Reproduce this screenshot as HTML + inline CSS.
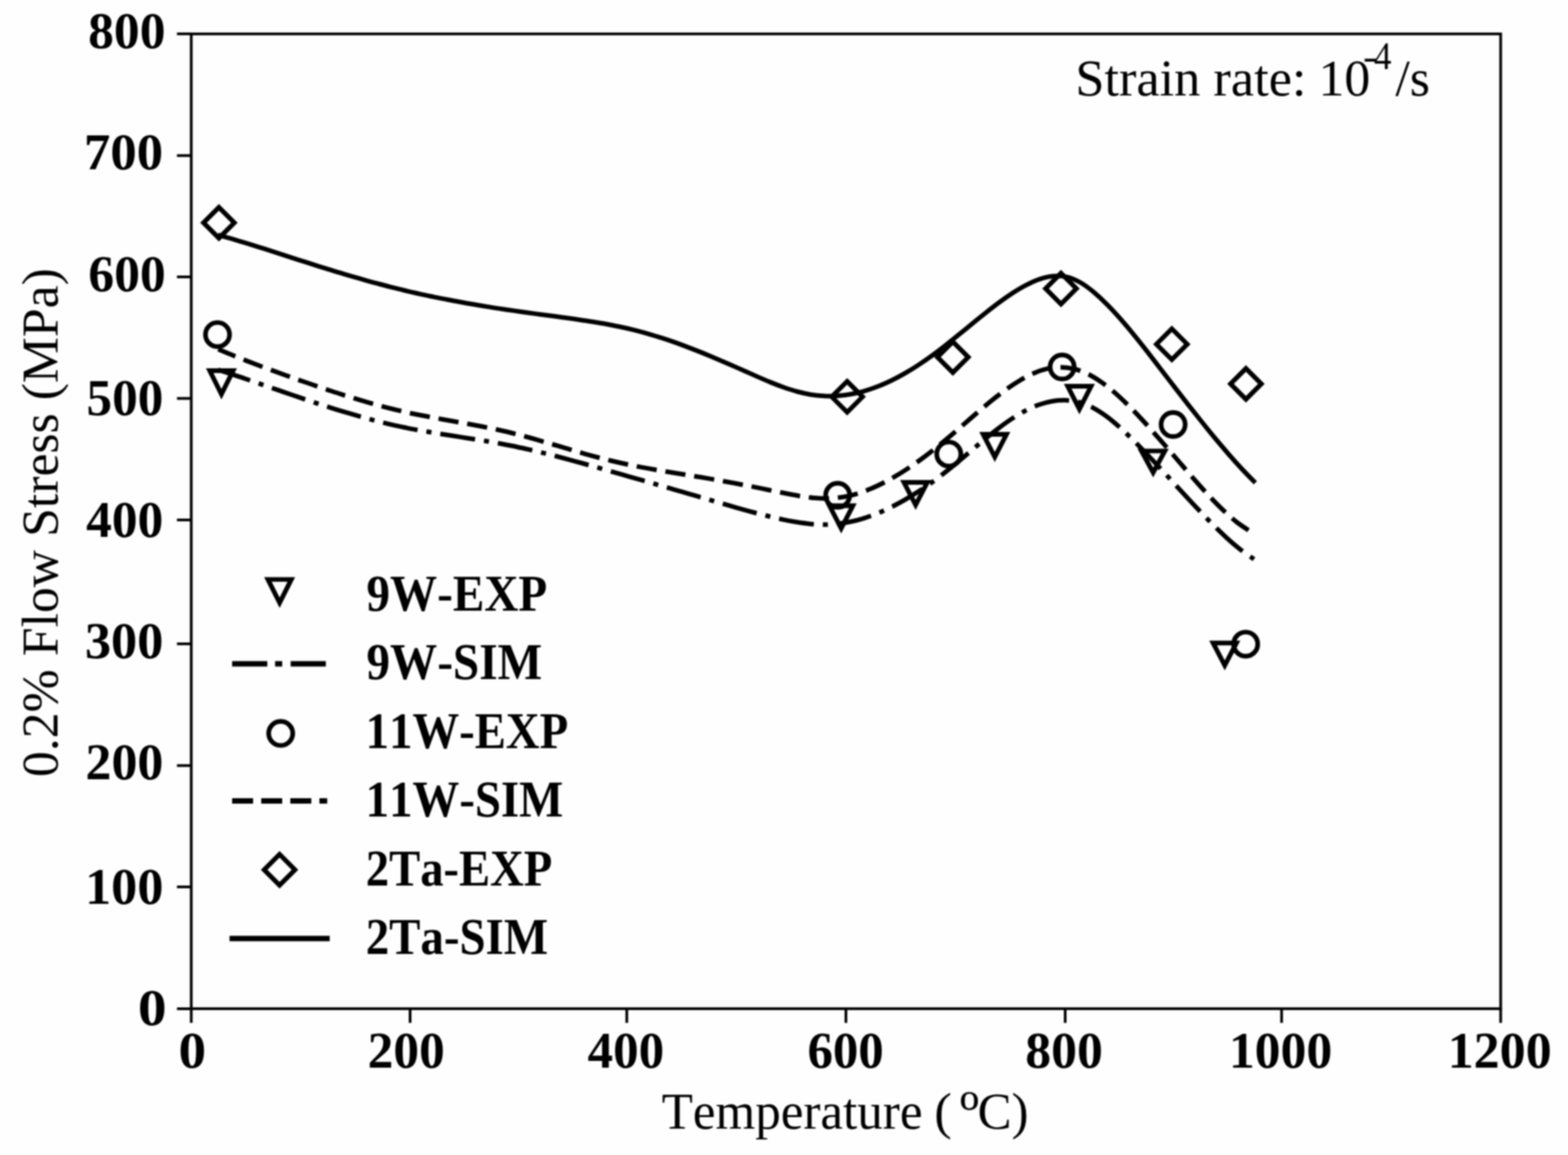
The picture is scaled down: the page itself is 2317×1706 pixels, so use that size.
<!DOCTYPE html>
<html lang="en">
<head>
<meta charset="utf-8">
<title>0.2% Flow Stress vs Temperature</title>
<style>
html,body{margin:0;padding:0;background:#fefefe;}
body{width:2317px;height:1706px;overflow:hidden;}
svg{display:block;filter:blur(1.3px);}
text{font-family:"Liberation Serif","DejaVu Serif",serif;fill:#000;font-kerning:none;font-variant-ligatures:none;white-space:pre;}
text.b{font-weight:bold;}
</style>
</head>
<body>
<svg width="2317" height="1706" viewBox="0 0 2317 1706">
<rect x="0" y="0" width="2317" height="1706" fill="#fefefe"/>
<g stroke="#000" stroke-width="4" fill="none">
<rect x="282.6" y="50.1" width="1934.9" height="1439.8"/>
<path d="M261.5 50.0 H282.6"/>
<path d="M261.5 229.8 H282.6"/>
<path d="M261.5 409.0 H282.6"/>
<path d="M261.5 588.5 H282.6"/>
<path d="M261.5 768.0 H282.6"/>
<path d="M261.5 951.0 H282.6"/>
<path d="M261.5 1130.8 H282.6"/>
<path d="M261.5 1310.0 H282.6"/>
<path d="M261.5 1490.0 H282.6"/>
<path d="M282.6 1489.9 V1510.8"/>
<path d="M606.0 1489.9 V1510.8"/>
<path d="M926.2 1489.9 V1510.8"/>
<path d="M1250.0 1489.9 V1510.8"/>
<path d="M1574.0 1489.9 V1510.8"/>
<path d="M1893.8 1489.9 V1510.8"/>
<path d="M2217.5 1489.9 V1510.8"/>
</g>
<text class="b" font-size="76" transform="translate(130.17 71.00) scale(1.0029 1)">800</text>
<text class="b" font-size="76" transform="translate(124.04 250.00) scale(1.0275 1)">700</text>
<text class="b" font-size="76" transform="translate(130.59 430.00) scale(1.0036 1)">600</text>
<text class="b" font-size="76" transform="translate(127.77 613.20) scale(0.9966 1)">500</text>
<text class="b" font-size="76" transform="translate(127.26 792.60) scale(1.0012 1)">400</text>
<text class="b" font-size="76" transform="translate(125.39 972.20) scale(1.0180 1)">300</text>
<text class="b" font-size="76" transform="translate(126.28 1151.40) scale(1.0101 1)">200</text>
<text class="b" font-size="76" transform="translate(125.83 1335.00) scale(1.0141 1)">100</text>
<text class="b" font-size="76" transform="translate(203.76 1514.00) scale(1.1176 1)">0</text>
<text class="b" font-size="76" transform="translate(263.69 1576.80) scale(1.0742 1)">0</text>
<text class="b" font-size="76" transform="translate(543.31 1576.80) scale(1.0008 1)">200</text>
<text class="b" font-size="76" transform="translate(868.27 1576.80) scale(0.9921 1)">400</text>
<text class="b" font-size="76" transform="translate(1193.13 1576.80) scale(0.9898 1)">600</text>
<text class="b" font-size="76" transform="translate(1515.06 1576.80) scale(1.0057 1)">800</text>
<text class="b" font-size="76" transform="translate(1815.89 1576.80) scale(1.0048 1)">1000</text>
<text class="b" font-size="76" transform="translate(2139.15 1576.80) scale(1.0111 1)">1200</text>
<text font-size="76"><tspan x="977.64" y="1666.60" font-size="76" textLength="404.45" lengthAdjust="spacingAndGlyphs">Temperature </tspan><tspan x="1380.58" y="1666.60" font-size="76" textLength="45.40" lengthAdjust="spacingAndGlyphs">( </tspan><tspan x="1418.34" y="1673.60" font-size="91" textLength="28.52" lengthAdjust="spacingAndGlyphs">º</tspan><tspan x="1444.41" y="1666.60" font-size="76" textLength="75.41" lengthAdjust="spacingAndGlyphs">C)</tspan></text>
<text font-size="76" transform="translate(85.20 1147.71) rotate(-90) scale(1.0059 1)">0.2% Flow Stress (MPa)</text>
<text font-size="76"><tspan x="1588.92" y="141.40" font-size="76" textLength="360.99" lengthAdjust="spacingAndGlyphs">Strain rate: </tspan><tspan x="1948.26" y="141.40" font-size="76" textLength="76.66" lengthAdjust="spacingAndGlyphs">10</tspan><tspan x="2014.11" y="102.20" font-size="58" textLength="22.31" lengthAdjust="spacingAndGlyphs">-</tspan><tspan x="2030.29" y="102.20" font-size="58" textLength="25.82" lengthAdjust="spacingAndGlyphs">4</tspan><tspan x="2062.00" y="141.40" font-size="76" textLength="50.96" lengthAdjust="spacingAndGlyphs">/s</tspan></text>
<text class="b" font-size="76" transform="translate(541.49 901.90) scale(0.9168 1)">9W-EXP</text>
<text class="b" font-size="76" transform="translate(541.49 1003.40) scale(0.9181 1)">9W-SIM</text>
<text class="b" font-size="76" transform="translate(540.37 1104.50) scale(0.9091 1)">11W-EXP</text>
<text class="b" font-size="76" transform="translate(540.36 1206.10) scale(0.9101 1)">11W-SIM</text>
<text class="b" font-size="76" transform="translate(540.51 1307.70) scale(0.9064 1)">2Ta-EXP</text>
<text class="b" font-size="76" transform="translate(540.49 1409.00) scale(0.9115 1)">2Ta-SIM</text>
<g stroke="#000" fill="none" stroke-width="6.8" stroke-linecap="butt" stroke-linejoin="round">
<path d="M322.0 347.0C325.3 347.9 335.3 350.7 341.9 352.6C348.5 354.5 355.2 356.5 361.8 358.5C368.4 360.5 375.1 362.6 381.7 364.7C388.3 366.8 395.0 368.9 401.6 371.0C408.2 373.1 414.9 375.4 421.5 377.5C428.1 379.6 434.9 381.8 441.5 383.9C448.1 386.0 454.8 388.2 461.4 390.3C468.0 392.4 474.7 394.4 481.3 396.5C487.9 398.6 494.6 400.6 501.2 402.6C507.8 404.6 514.5 406.6 521.1 408.5C527.7 410.4 534.4 412.3 541.0 414.2C547.6 416.1 554.3 417.8 560.9 419.6C567.5 421.4 574.2 423.1 580.8 424.8C587.4 426.5 594.1 428.1 600.7 429.7C607.3 431.3 614.0 432.7 620.6 434.2C627.2 435.7 633.9 437.1 640.5 438.5C647.1 439.9 653.9 441.1 660.5 442.4C667.1 443.7 673.8 445.0 680.4 446.2C687.0 447.4 693.7 448.6 700.3 449.7C706.9 450.8 713.6 451.9 720.2 453.0C726.8 454.1 733.5 455.1 740.1 456.1C746.7 457.1 753.4 458.0 760.0 459.0C766.6 460.0 773.3 461.0 779.9 461.9C786.5 462.8 793.2 463.7 799.8 464.6C806.4 465.5 813.1 466.3 819.7 467.2C826.3 468.1 833.0 469.0 839.6 469.9C846.2 470.8 852.9 471.8 859.5 472.8C866.1 473.8 872.9 474.8 879.5 475.9C886.1 477.0 892.8 478.1 899.4 479.4C906.0 480.6 912.7 482.0 919.3 483.4C925.9 484.8 932.6 486.3 939.2 488.0C945.8 489.7 952.5 491.5 959.1 493.4C965.7 495.3 972.4 497.4 979.0 499.5C985.6 501.6 992.3 503.9 998.9 506.3C1005.5 508.7 1012.2 511.2 1018.8 513.7C1025.4 516.2 1032.1 518.8 1038.7 521.5C1045.3 524.2 1052.0 527.0 1058.6 529.8C1065.2 532.6 1071.8 535.5 1078.5 538.4C1085.2 541.3 1091.8 544.2 1098.5 547.1C1105.2 550.0 1111.8 553.1 1118.4 556.0C1125.0 558.9 1131.7 561.8 1138.3 564.5C1144.9 567.2 1151.6 569.8 1158.2 572.1C1164.8 574.4 1171.5 576.6 1178.1 578.4C1184.7 580.2 1191.4 581.7 1198.0 582.8C1204.6 583.9 1211.3 584.6 1217.9 584.9C1224.5 585.2 1231.2 585.2 1237.8 584.7C1244.4 584.2 1251.1 583.4 1257.7 582.2C1264.3 581.0 1271.0 579.4 1277.6 577.5C1284.2 575.6 1290.8 573.3 1297.5 570.7C1304.2 568.1 1310.8 565.1 1317.5 561.9C1324.2 558.7 1330.8 555.1 1337.4 551.3C1344.0 547.5 1350.7 543.4 1357.3 539.0C1363.9 534.6 1370.6 530.0 1377.2 525.2C1383.8 520.4 1390.5 515.3 1397.1 510.1C1403.7 504.9 1410.4 499.6 1417.0 494.2C1423.6 488.8 1430.3 483.3 1436.9 477.9C1443.5 472.5 1450.2 467.1 1456.8 461.9C1463.4 456.7 1470.1 451.5 1476.7 446.6C1483.3 441.7 1490.0 437.0 1496.6 432.7C1503.2 428.4 1509.8 424.4 1516.5 421.0C1523.2 417.6 1529.8 414.5 1536.5 412.3C1543.2 410.1 1549.8 408.4 1556.4 407.9C1563.0 407.3 1569.7 407.5 1576.3 409.0C1582.9 410.5 1589.6 413.4 1596.2 417.1C1602.8 420.8 1609.5 425.9 1616.1 431.4C1622.7 436.9 1629.4 443.2 1636.0 449.9C1642.6 456.5 1649.3 463.8 1655.9 471.3C1662.5 478.8 1669.2 486.7 1675.8 494.8C1682.4 502.9 1689.1 511.4 1695.7 519.9C1702.3 528.4 1709.0 537.1 1715.6 545.7C1722.2 554.3 1728.8 563.0 1735.5 571.6C1742.2 580.2 1748.8 588.8 1755.5 597.3C1762.2 605.8 1768.8 614.2 1775.4 622.5C1782.0 630.8 1788.7 639.0 1795.3 647.0C1801.9 655.0 1808.6 662.8 1815.2 670.4C1821.8 678.0 1828.5 685.5 1835.1 692.6C1841.7 699.7 1851.7 709.8 1855.0 713.2"/>
<path stroke-dasharray="30 13.07" stroke-dashoffset="2.7" d="M322.5 515.9C325.9 517.3 335.9 521.5 342.6 524.2C349.3 526.9 355.9 529.6 362.6 532.2C369.3 534.8 376.0 537.4 382.7 539.9C389.4 542.4 396.1 544.8 402.8 547.3C409.5 549.8 416.2 552.2 422.9 554.6C429.6 557.0 436.2 559.4 442.9 561.7C449.6 564.0 456.3 566.3 463.0 568.6C469.7 570.9 476.4 573.2 483.1 575.4C489.8 577.6 496.5 579.9 503.2 582.0C509.9 584.1 516.5 586.2 523.2 588.2C529.9 590.2 536.6 592.3 543.3 594.2C550.0 596.1 556.7 598.0 563.4 599.8C570.1 601.6 576.7 603.3 583.4 604.9C590.1 606.5 596.8 608.1 603.5 609.6C610.2 611.1 616.9 612.4 623.6 613.7C630.3 615.0 637.0 616.3 643.7 617.5C650.4 618.7 657.0 619.9 663.7 621.1C670.4 622.3 677.1 623.5 683.8 624.7C690.5 625.9 697.2 627.1 703.9 628.4C710.6 629.7 717.2 630.9 723.9 632.3C730.6 633.7 737.3 635.1 744.0 636.6C750.7 638.1 757.4 639.8 764.1 641.5C770.8 643.2 777.5 645.0 784.2 646.9C790.9 648.8 797.5 650.8 804.2 652.7C810.9 654.7 817.6 656.6 824.3 658.6C831.0 660.6 837.7 662.6 844.4 664.6C851.1 666.6 857.8 668.5 864.5 670.4C871.2 672.3 877.8 674.1 884.5 675.9C891.2 677.6 897.9 679.3 904.6 680.9C911.3 682.5 918.0 684.0 924.7 685.4C931.4 686.8 938.0 688.2 944.7 689.5C951.4 690.8 958.1 692.0 964.8 693.2C971.5 694.4 978.2 695.5 984.9 696.6C991.6 697.7 998.3 698.8 1005.0 699.9C1011.7 701.0 1018.3 702.1 1025.0 703.2C1031.7 704.3 1038.4 705.4 1045.1 706.5C1051.8 707.6 1058.5 708.8 1065.2 710.0C1071.9 711.2 1078.5 712.5 1085.2 713.7C1091.9 715.0 1098.6 716.2 1105.3 717.5C1112.0 718.8 1118.7 720.1 1125.4 721.5C1132.1 722.9 1138.8 724.2 1145.5 725.6C1152.2 727.0 1158.8 728.4 1165.5 729.7C1172.2 731.0 1178.9 732.3 1185.6 733.3C1192.3 734.3 1199.0 735.2 1205.7 735.7C1212.4 736.2 1219.1 736.5 1225.8 736.2C1232.5 735.9 1239.1 735.2 1245.8 734.1C1252.5 733.0 1259.2 731.4 1265.9 729.4C1272.6 727.4 1279.3 725.0 1286.0 722.2C1292.7 719.5 1299.3 716.3 1306.0 712.9C1312.7 709.5 1319.4 705.7 1326.1 701.7C1332.8 697.7 1339.5 693.3 1346.2 688.8C1352.9 684.3 1359.6 679.5 1366.3 674.5C1373.0 669.5 1379.6 664.2 1386.3 658.8C1393.0 653.4 1399.7 647.8 1406.4 642.1C1413.1 636.4 1419.8 630.5 1426.5 624.7C1433.2 618.9 1439.9 613.0 1446.6 607.3C1453.3 601.6 1459.9 595.9 1466.6 590.6C1473.3 585.3 1480.0 580.0 1486.7 575.3C1493.4 570.5 1500.1 566.0 1506.8 562.1C1513.5 558.2 1520.1 554.5 1526.8 551.6C1533.5 548.7 1540.2 546.3 1546.9 544.8C1553.6 543.3 1560.3 542.5 1567.0 542.5C1573.7 542.5 1580.4 543.3 1587.1 544.9C1593.8 546.5 1600.4 549.0 1607.1 552.2C1613.8 555.4 1620.5 559.6 1627.2 564.2C1633.9 568.8 1640.6 574.2 1647.3 580.0C1654.0 585.8 1660.6 592.2 1667.3 598.8C1674.0 605.4 1680.7 612.4 1687.4 619.6C1694.1 626.8 1700.8 634.4 1707.5 641.9C1714.2 649.4 1720.9 657.2 1727.6 664.9C1734.3 672.6 1740.9 680.5 1747.6 688.3C1754.3 696.1 1761.0 703.9 1767.7 711.5C1774.4 719.1 1781.1 726.6 1787.8 733.7C1794.5 740.8 1801.2 747.7 1807.9 754.0C1814.6 760.3 1821.2 766.3 1827.9 771.5C1834.6 776.7 1844.7 783.0 1848.0 785.3"/>
<path stroke-dasharray="52 13.3 7.5 13.3" stroke-dashoffset="2.35" d="M322.5 546.2C325.8 547.3 335.8 550.5 342.4 552.7C349.0 554.9 355.7 557.1 362.3 559.4C368.9 561.6 375.5 563.9 382.1 566.2C388.7 568.5 395.4 570.8 402.0 573.1C408.6 575.4 415.3 577.7 421.9 580.0C428.5 582.3 435.2 584.5 441.8 586.8C448.4 589.0 455.0 591.3 461.6 593.5C468.2 595.7 474.9 597.9 481.5 600.0C488.1 602.1 494.8 604.2 501.4 606.2C508.0 608.2 514.7 610.2 521.3 612.1C527.9 614.0 534.5 615.9 541.1 617.7C547.7 619.5 554.4 621.2 561.0 622.9C567.6 624.6 574.3 626.2 580.9 627.7C587.5 629.2 594.2 630.6 600.8 632.0C607.4 633.4 614.0 634.6 620.6 635.8C627.2 637.0 633.9 638.1 640.5 639.2C647.1 640.3 653.8 641.4 660.4 642.4C667.0 643.4 673.7 644.5 680.3 645.5C686.9 646.5 693.6 647.6 700.2 648.6C706.8 649.6 713.4 650.7 720.0 651.8C726.6 652.9 733.3 654.1 739.9 655.3C746.5 656.5 753.2 657.8 759.8 659.2C766.4 660.6 773.1 662.0 779.7 663.5C786.3 665.0 792.9 666.6 799.5 668.2C806.1 669.8 812.8 671.5 819.4 673.2C826.0 674.9 832.7 676.7 839.3 678.5C845.9 680.3 852.6 682.1 859.2 683.9C865.8 685.7 872.4 687.6 879.0 689.5C885.6 691.4 892.3 693.2 898.9 695.1C905.5 697.0 912.2 698.9 918.8 700.8C925.4 702.7 932.1 704.6 938.7 706.5C945.3 708.4 952.0 710.3 958.6 712.2C965.2 714.1 971.8 716.0 978.4 717.9C985.0 719.8 991.7 721.8 998.3 723.7C1004.9 725.6 1011.6 727.5 1018.2 729.4C1024.8 731.3 1031.5 733.3 1038.1 735.2C1044.7 737.1 1051.3 739.1 1057.9 741.0C1064.5 742.9 1071.2 744.9 1077.8 746.8C1084.4 748.7 1091.1 750.6 1097.7 752.5C1104.3 754.4 1111.0 756.2 1117.6 757.9C1124.2 759.6 1130.8 761.3 1137.4 762.9C1144.0 764.5 1150.7 766.1 1157.3 767.5C1163.9 768.9 1170.6 770.2 1177.2 771.2C1183.8 772.2 1190.5 773.2 1197.1 773.8C1203.7 774.4 1210.3 774.9 1216.9 774.9C1223.5 774.9 1230.2 774.6 1236.8 773.9C1243.4 773.2 1250.1 772.1 1256.7 770.7C1263.3 769.3 1270.0 767.5 1276.6 765.4C1283.2 763.3 1289.9 761.0 1296.5 758.3C1303.1 755.6 1309.7 752.6 1316.3 749.4C1322.9 746.1 1329.6 742.6 1336.2 738.8C1342.8 735.0 1349.5 731.0 1356.1 726.7C1362.7 722.4 1369.4 717.9 1376.0 713.2C1382.6 708.5 1389.2 703.5 1395.8 698.3C1402.4 693.1 1409.1 687.6 1415.7 682.1C1422.3 676.6 1429.0 670.9 1435.6 665.3C1442.2 659.7 1448.9 653.9 1455.5 648.5C1462.1 643.1 1468.7 637.7 1475.3 632.7C1481.9 627.7 1488.6 622.8 1495.2 618.5C1501.8 614.2 1508.5 610.1 1515.1 606.7C1521.7 603.3 1528.4 600.2 1535.0 597.9C1541.6 595.5 1548.3 593.7 1554.9 592.6C1561.5 591.5 1568.1 591.0 1574.7 591.2C1581.3 591.5 1588.0 592.3 1594.6 594.1C1601.2 595.9 1607.9 598.5 1614.5 601.9C1621.1 605.3 1627.8 609.7 1634.4 614.5C1641.0 619.3 1647.6 624.9 1654.2 630.8C1660.8 636.6 1667.5 643.1 1674.1 649.6C1680.7 656.1 1687.4 663.1 1694.0 670.0C1700.6 676.9 1707.3 684.0 1713.9 691.1C1720.5 698.2 1727.1 705.4 1733.7 712.6C1740.3 719.8 1747.0 727.1 1753.6 734.2C1760.2 741.4 1766.9 748.5 1773.5 755.5C1780.1 762.5 1786.8 769.4 1793.4 776.0C1800.0 782.6 1806.6 788.9 1813.2 794.9C1819.8 800.9 1826.5 806.6 1833.1 811.8C1839.7 817.0 1849.7 823.6 1853.0 826.0"/>
<path stroke-width="8" d="M339.2 1386.3H487.2"/>
<path stroke-width="8" stroke-dasharray="31 12" d="M343 1183.1H483.5"/>
<path stroke-width="8" stroke-dasharray="52 11.5 10.5 12.5" d="M343 980.5H482.7"/>
</g>
<g stroke="#000" fill="none" stroke-width="6.9" stroke-linejoin="miter" stroke-miterlimit="10">
<path d="M309.9 547.5 H344.5 L327.2 582.2Z"/>
<path d="M1225.7 747.0 H1260.3 L1243.0 780.5Z"/>
<path d="M1335.7 712.5 H1370.3 L1353.0 745.8Z"/>
<path d="M1452.7 641.5 H1487.3 L1470.0 675.0Z"/>
<path d="M1577.7 570.5 H1612.3 L1595.0 604.4Z"/>
<path d="M1686.7 666.1 H1721.3 L1704.0 698.0Z"/>
<path d="M1792.5 949.7 H1827.1 L1809.8 982.9Z"/>
<path d="M395.9 855.9 H430.5 L413.2 890.3Z"/>
<circle cx="321.4" cy="494.2" r="17.8"/>
<circle cx="1237.8" cy="731.6" r="17.8"/>
<circle cx="1402.0" cy="670.7" r="17.8"/>
<circle cx="1569.5" cy="542.0" r="17.8"/>
<circle cx="1733.5" cy="627.0" r="17.8"/>
<circle cx="1840.7" cy="951.4" r="17.8"/>
<circle cx="414.8" cy="1083.3" r="17.8"/>
<path d="M323.5 306.2L346.3 329.0L323.5 351.8L300.7 329.0Z"/>
<path d="M1251.8 563.3L1274.6 586.1L1251.8 608.9L1229.0 586.1Z"/>
<path d="M1408.0 504.7L1430.8 527.5L1408.0 550.3L1385.2 527.5Z"/>
<path d="M1567.8 403.5L1590.6 426.3L1567.8 449.1L1545.0 426.3Z"/>
<path d="M1731.6 485.6L1754.4 508.4L1731.6 531.2L1708.8 508.4Z"/>
<path d="M1841.1 544.2L1863.9 567.0L1841.1 589.8L1818.3 567.0Z"/>
<path d="M413.1 1261.9L435.9 1284.7L413.1 1307.5L390.3 1284.7Z"/>
</g>
</svg>
</body>
</html>
